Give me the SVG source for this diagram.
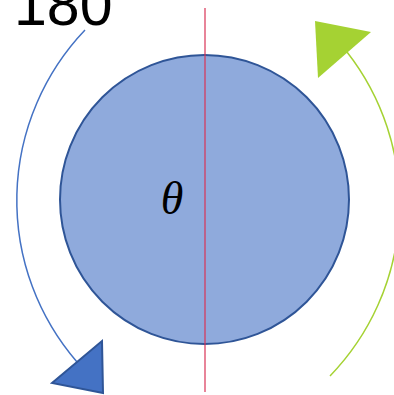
<svg xmlns="http://www.w3.org/2000/svg" width="394" height="395" viewBox="0 0 394 395">
<style>
.lbl{font-family:"Liberation Sans",Arial,sans-serif;fill:#000}
.th{font-family:"Liberation Serif","DejaVu Serif",serif;font-style:italic;fill:#000}
</style>
<rect width="394" height="395" fill="#fff"/>
<g id="disc">
<circle cx="204.5" cy="199.5" r="144.5" fill="#8FAADC" stroke="#2F5597" stroke-width="2"/>
</g>
<g id="connectors">
<line x1="205" y1="8" x2="205" y2="392" stroke="#D93355" stroke-width="1.2"/>
<path d="M85 30 A247 247 0 0 0 77 362" fill="none" stroke="#4472C4" stroke-width="1.5"/>
<path d="M347 52 A247 247 0 0 1 330 376" fill="none" stroke="#A5D233" stroke-width="1.5"/>
<polygon points="52,383 102,341 103,393" fill="#4472C4" stroke="#2F5597" stroke-width="2" stroke-linejoin="miter"/>
<polygon points="315,21 371,32 318,78" fill="#A5D233"/>
</g>
<g id="labels">
<text class="lbl" x="14" y="25" font-size="59">180</text>
<text class="th" x="172" y="214" font-size="46" text-anchor="middle">θ</text>
</g>
</svg>
